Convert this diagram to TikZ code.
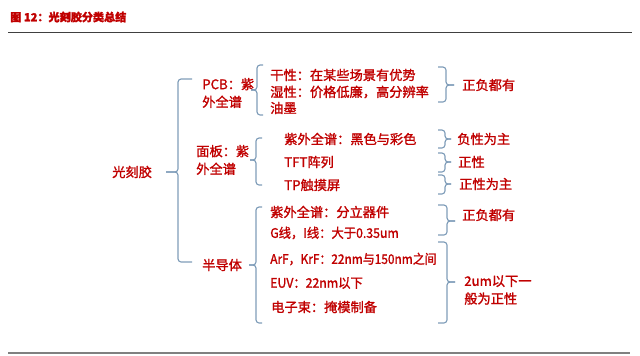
\documentclass[tikz,border=0pt]{standalone}
\usepackage{fontspec}
\setmainfont{Noto Sans CJK SC}[FakeBold=1.5]
\usepackage{xcolor}
\usepackage{tikz}
\definecolor{labelred}{HTML}{C00000}
\definecolor{bracegray}{HTML}{7F9DB9}
\definecolor{rulegray}{HTML}{404040}
\tikzset{
  lbl/.style={anchor=west,inner sep=0pt,text=labelred,align=left,
    font=\fontsize{9.4}{12.6}\selectfont},
  brace line/.style={bracegray,line width=0.8pt,rounded corners=2.2pt}
}
% brace: x, top, bottom, middle, arm, tip (px, signed)
\newcommand{\kbrace}[6]{%
  \draw[brace line] ({#1+#5},#2) -- (#1,#2) -- (#1,#4) -- ({#1-#6},#4);
  \draw[brace line] ({#1+#5},#3) -- (#1,#3) -- (#1,#4) -- ({#1-#6},#4);}

\begin{document}
\begin{tikzpicture}[x=0.025cm,y=-0.025cm]
  \useasboundingbox (0,0) rectangle (640,356);
  % title and rules
  \node[lbl,font=\fontsize{7.9}{9}\selectfont\bfseries] (title) at (10,17) {图 12：光刻胶分类总结};
  \draw[rulegray,line width=0.7pt] (8,32) -- (632,32);
  \draw[gray,line width=1.4pt] (8,353) -- (630,353);

  % levels
  \node[lbl] (root) at (112,172) {光刻胶};
  \node[lbl] (pcb) at (202,93) {PCB：紫\\外全谱};
  \node[lbl] (panel) at (196,160) {面板：紫\\外全谱};
  \node[lbl] (semi) at (202,265) {半导体};

  \node[lbl] (pcbA) at (270,75) {干性：在某些场景有优势};
  \node[lbl] (pcbB) at (270,92) {湿性：价格低廉，高分辨率};
  \node[lbl] (pcbC) at (270,108) {油墨};

  \node[lbl] (panA) at (284,139) {紫外全谱：黑色与彩色};
  \node[lbl] (panB) at (284,162) {TFT阵列};
  \node[lbl] (panC) at (284,185) {TP触摸屏};

  \node[lbl] (semiA) at (270,212) {紫外全谱：分立器件};
  \node[lbl] (semiB) at (270,233) {\scalebox{0.93}[1]{G线，I线：大于0.35um}};
  \node[lbl] (semiC) at (270,259) {\scalebox{0.9}[1]{ArF，KrF：22nm与150nm之间}};
  \node[lbl] (semiD) at (270,283) {\scalebox{0.93}[1]{EUV：22nm以下}};
  \node[lbl] (semiE) at (271,307) {电子束：掩模制备};

  \node[lbl] (pcbR) at (462,85) {正负都有};
  \node[lbl] (panRA) at (457,139) {负性为主};
  \node[lbl] (panRB) at (458,162) {正性};
  \node[lbl] (panRC) at (459,184) {正性为主};
  \node[lbl] (semiRA) at (462,215) {正负都有};
  \node[lbl] (semiRB) at (464,290) {2um以下一\\般为正性};

  % braces
  \kbrace{178}{79}{262}{172}{14}{12}
  \kbrace{257}{65}{115}{90}{6}{6}
  \kbrace{256}{138}{185}{160}{6}{6}
  \kbrace{256}{207}{323}{265}{6}{7}
  \kbrace{446}{67}{102}{85}{-8}{-8}
  \kbrace{445}{130}{148}{139}{-7}{-6}
  \kbrace{445}{153}{172}{162}{-7}{-6}
  \kbrace{445}{175}{194}{184}{-7}{-6}
  \kbrace{447}{205}{235}{221}{-9}{-8}
  \kbrace{447}{242}{323}{282}{-9}{-8}
\end{tikzpicture}
\end{document}
